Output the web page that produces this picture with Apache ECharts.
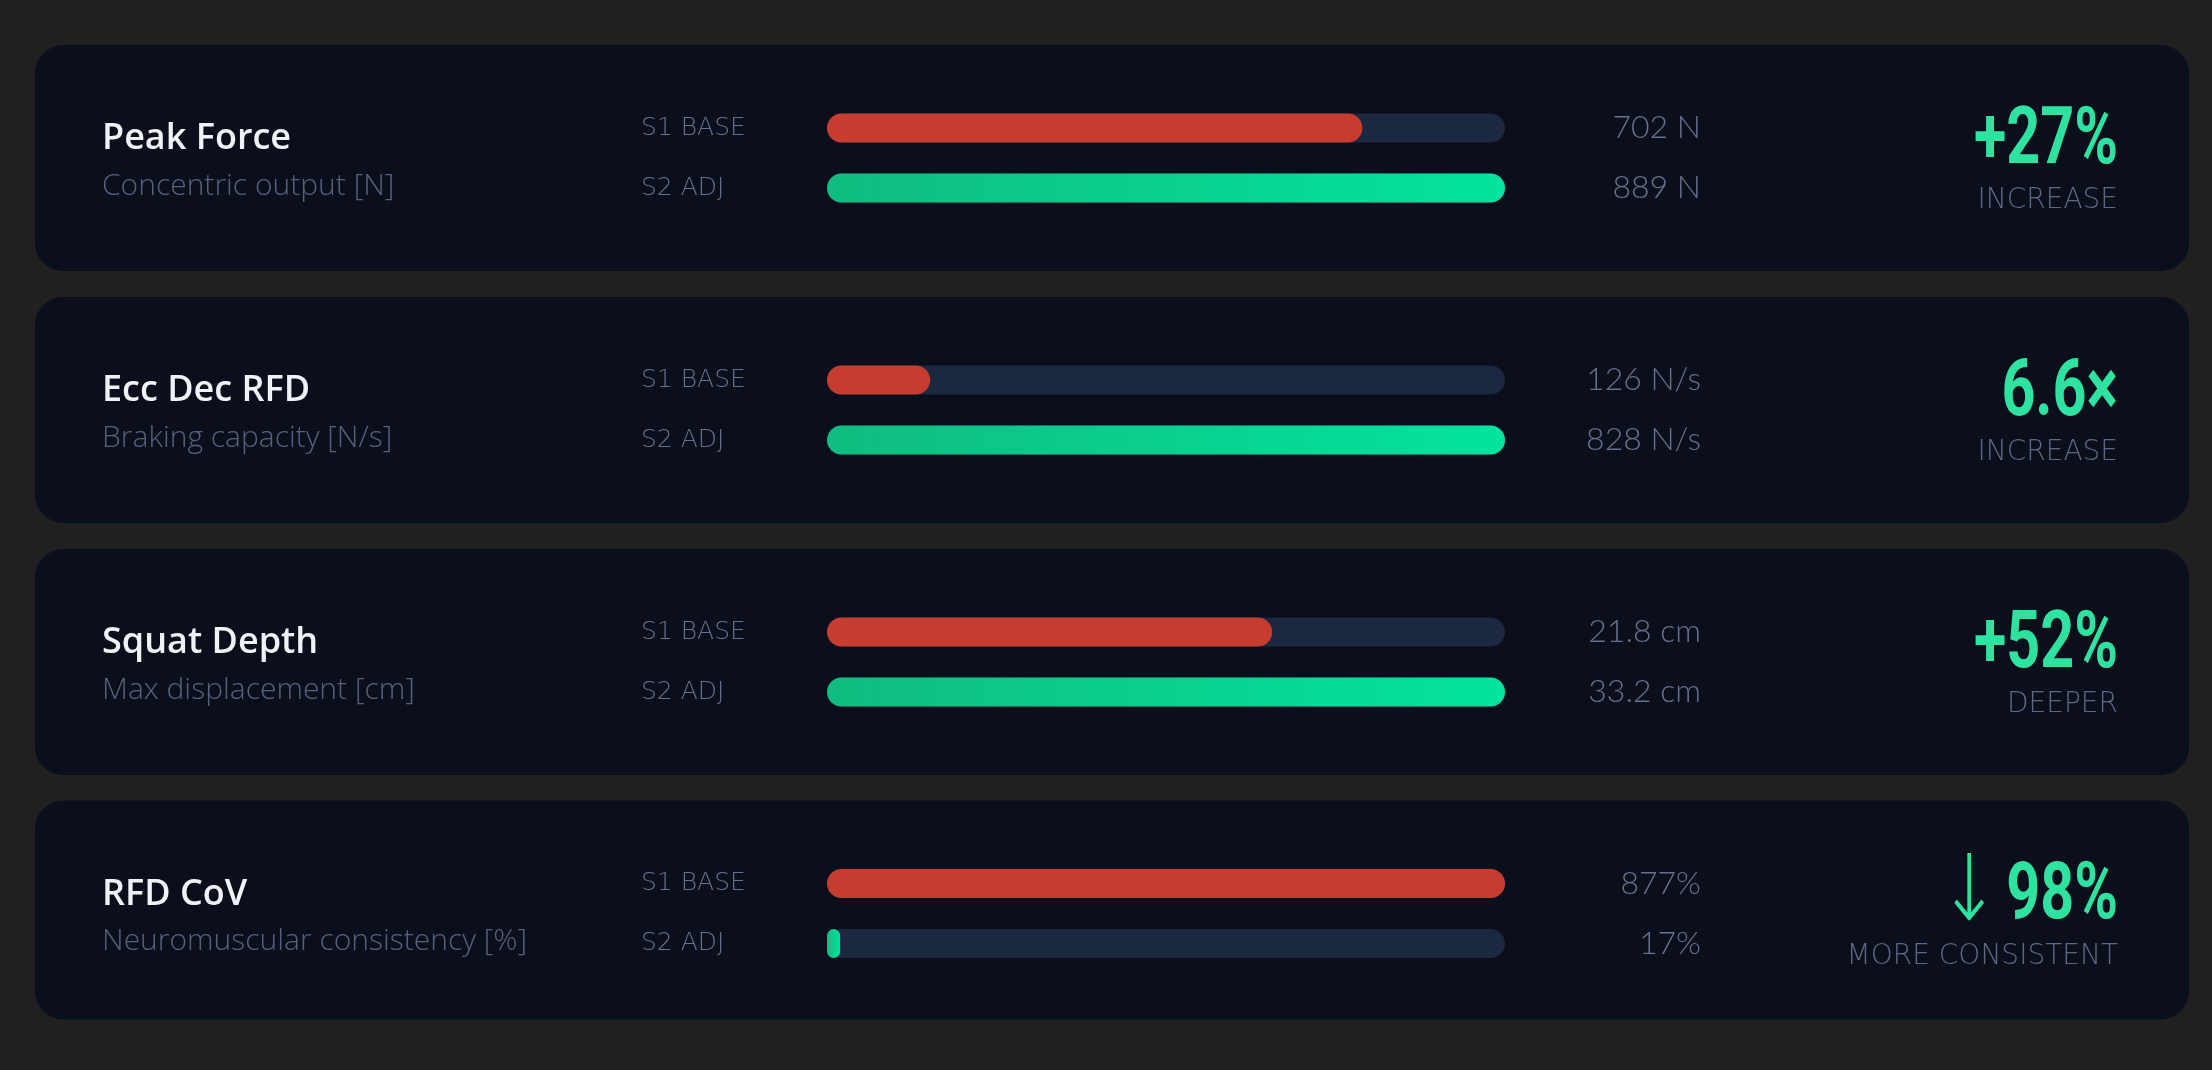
<!DOCTYPE html>
<html>
<head>
<meta charset="utf-8">
<script src="https://cdn.jsdelivr.net/npm/echarts@6/dist/echarts.min.js"></script>
<style>
html,body{margin:0;padding:0;background:#202020;}
#chart{width:2212px;height:1070px;}
</style>
</head>
<body>
<div id="chart"></div>
<script>
// ---- data ----
const categories = ['Peak Force', 'Ecc Dec RFD', 'Squat Depth', 'RFD CoV'];
const subtitles = ['Concentric output [N]', 'Braking capacity [N/s]', 'Max displacement [cm]', 'Neuromuscular consistency [%]'];
const sessionLabels = ['S1 BASE', 'S2 ADJ'];
const s1Base = [702, 126, 21.8, 877];
const s2Adj = [889, 828, 33.2, 17];
const units = ['N', 'N/s', 'cm', '%'];
const changeValue = ['+27%', '6.6×', '+52%', '98%'];
const changeArrow = ['', '', '', '↓'];
const changeCaption = ['INCREASE', 'INCREASE', 'DEEPER', 'MORE CONSISTENT'];

// ---- layout / style ----
const rowCenters = [158, 410, 662, 913.5];
const panelHeights = [226, 226, 226, 219];
const barLeft = 827, barRight = 1505;
const W = 2212;
const C = {
  panel: '#0b0f1b', track: '#1c2740', red: '#c63d2f',
  greenL: '#10bc7f', greenR: '#03e49f', big: '#2ee3a0',
  title: '#f0f2f7', sub: '#56617e', label: '#67718e', value: '#67708c', cap: '#5e6884'
};

function fmt(v, u) { return u === '%' ? v + '%' : v + ' ' + u; }

const chart = echarts.init(document.getElementById('chart'), null, {renderer: 'canvas'});

const grids = [], xAxes = [], yAxes = [], series = [], graphics = [];
categories.forEach((cat, i) => {
  const c = rowCenters[i];
  grids.push({left: barLeft, right: W - barRight, top: c - 60, height: 120, containLabel: false});
  xAxes.push({type: 'value', gridIndex: i, min: 0, max: Math.max(s1Base[i], s2Adj[i]), show: false});
  yAxes.push({
    type: 'category', gridIndex: i, inverse: true, data: sessionLabels, position: 'left',
    axisLine: {show: false}, axisTick: {show: false}, splitLine: {show: false},
    axisLabel: {align: 'left', margin: barLeft - 641, color: C.label, fontFamily: 'DejaVu Sans', fontWeight: 300, fontSize: 25}
  });
  yAxes.push({
    type: 'category', gridIndex: i, inverse: true, position: 'right',
    data: [fmt(s1Base[i], units[i]), fmt(s2Adj[i], units[i])],
    axisLine: {show: false}, axisTick: {show: false}, splitLine: {show: false},
    axisLabel: {align: 'right', margin: 1701 - barRight, color: C.value, fontFamily: 'Lato', fontWeight: 300, fontSize: 32}
  });
  series.push({
    type: 'bar', xAxisIndex: i, yAxisIndex: i * 2, barWidth: 29, silent: true,
    showBackground: true,
    backgroundStyle: {color: C.track, borderRadius: 15},
    itemStyle: {borderRadius: 15},
    data: [
      {value: s1Base[i], itemStyle: {color: C.red}},
      {value: s2Adj[i], itemStyle: {color: new echarts.graphic.LinearGradient(0, 0, 1, 0, [
        {offset: 0, color: C.greenL}, {offset: 1, color: C.greenR}])}}
    ]
  });
  graphics.push({type: 'rect', z: -10, shape: {x: 35, y: c - 113, width: 2154, height: panelHeights[i], r: 28},
    style: {fill: C.panel}});
  graphics.push({type: 'text', z: 10, x: 102, y: c - 19,
    style: {text: cat, fill: C.title, font: '600 36px "Open Sans"', verticalAlign: 'middle', align: 'left'}});
  graphics.push({type: 'text', z: 10, x: 102, y: c + 28,
    style: {text: subtitles[i], fill: C.sub, font: '300 30px "Open Sans"', verticalAlign: 'middle', align: 'left'}});
  graphics.push({type: 'text', z: 10, x: 2118, y: c - 15, scaleX: 0.75,
    style: {text: changeValue[i], fill: C.big, font: 'bold 79px Roboto', verticalAlign: 'middle', align: 'right'}});
  if (changeArrow[i]) {
    graphics.push({type: 'text', z: 10, x: 1969, y: c - 17, scaleX: 0.8,
      style: {text: changeArrow[i], fill: C.big, font: '200 92px "DejaVu Sans"', verticalAlign: 'middle', align: 'center'}});
  }
  graphics.push({type: 'text', z: 10, x: 2118, y: c + 43,
    style: {text: changeCaption[i], fill: C.cap, font: '300 28px "DejaVu Sans"', verticalAlign: 'middle', align: 'right'}});
});

chart.setOption({
  backgroundColor: '#202020',
  animation: false,
  grid: grids, xAxis: xAxes, yAxis: yAxes, series: series,
  graphic: {elements: graphics}
});
</script>
</body>
</html>
